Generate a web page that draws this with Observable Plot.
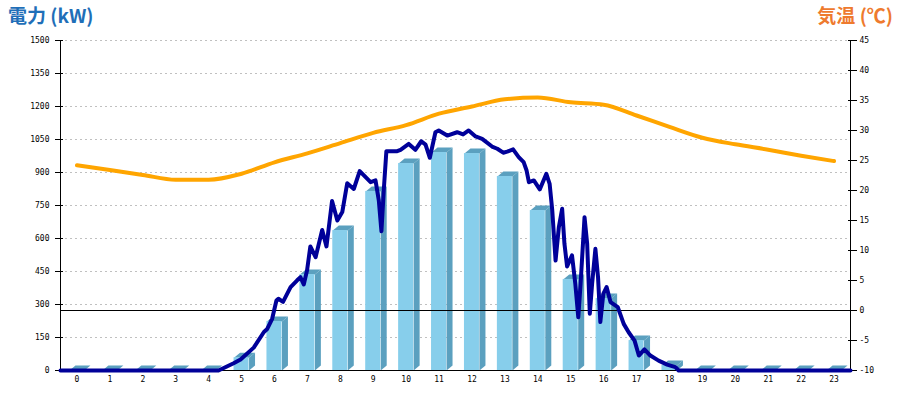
<!DOCTYPE html>
<html>
<head>
<meta charset="utf-8">
<script src="https://cdn.jsdelivr.net/npm/d3@7"></script>
<script src="https://cdn.jsdelivr.net/npm/@observablehq/plot@0.6"></script>
<style>
  html, body { margin: 0; padding: 0; background: #fff; }
  #wrap { position: relative; width: 900px; height: 400px; }
  .title { position: absolute; top: 2px; font-family: "Noto Sans CJK JP", "Noto Sans", sans-serif; font-weight: bold; font-size: 19px; line-height: 25px; }
  #tl { left: 8px; color: #1f6fb8; }
  #tr { right: 7px; color: #ee7a2e; }
</style>
</head>
<body>
<div id="wrap">
  <div class="title" id="tl">電力 (kW)</div>
  <div class="title" id="tr">気温 (℃)</div>
</div>
<script>
// ---- data ----
const hours = [0,1,2,3,4,5,6,7,8,9,10,11,12,13,14,15,16,17,18,19,20,21,22,23];
const hourlyPower = [0,0,0,0,0,58,223,436,636,814,941,991,986,882,727,414,327,136,23,0,0,0,0,0];
const temperature = [24.2,23.4,22.6,21.8,21.8,22.8,24.7,26.2,27.9,29.6,30.9,32.8,34,35.2,35.5,34.7,34.3,32.5,30.6,28.8,27.7,26.8,25.8,24.9];
const powerTime = [0,4.8,5.26,5.47,5.87,6.18,6.28,6.43,6.56,6.62,6.76,6.99,7.19,7.29,7.39,7.49,7.59,7.75,7.95,8.08,8.25,8.41,8.56,8.71,8.91,9.09,9.42,9.57,9.67,9.75,9.82,9.90,10.08,10.23,10.33,10.58,10.78,10.96,11.09,11.22,11.39,11.49,11.75,12.05,12.23,12.40,12.61,12.81,13.11,13.27,13.45,13.57,13.75,13.92,14.07,14.16,14.23,14.38,14.56,14.76,14.86,14.94,15.04,15.14,15.24,15.31,15.39,15.54,15.64,15.73,15.80,15.92,16.00,16.08,16.15,16.25,16.33,16.40,16.49,16.59,16.71,16.93,17.11,17.26,17.44,17.57,17.74,17.92,18.17,18.43,18.68,18.78,24];
const powerValue = [0,0,33,50,104,175,189,235,318,326,312,379,410,424,391,455,564,515,639,564,770,682,720,851,825,906,856,864,773,633,818,997,997,997,1003,1030,1003,1042,1027,967,1083,1091,1068,1083,1073,1091,1064,1053,1018,1008,990,995,1005,970,947,909,856,864,823,894,848,727,500,652,735,576,473,523,394,242,394,697,576,258,394,553,424,220,348,379,311,288,212,174,136,68,96,68,45,27,15,0,0];
const powerTicks = [0,150,300,450,600,750,900,1050,1200,1350,1500];
const tempTicks = [-10,-5,0,5,10,15,20,25,30,35,40,45];

// ---- layout ----
const W = 900, H = 400, mL = 60, mR = 50, mT = 40, mB = 30;
const pMax = 1500, tMin = -10, tMax = 45;
const hPerPx = 24 / (W - mL - mR);
const kwPerPx = pMax / (H - mT - mB);
const half = 7.5 * hPerPx;      // half front width
const depX = 6 * hPerPx;        // 3D depth in x
const depY = 5 * kwPerPx;       // 3D depth in y
const tToP = t => (t - tMin) / (tMax - tMin) * pMax;

const bars = hours.map((h, i) => ({h, v: hourlyPower[i], x1: h + 0.5 - half, x2: h + 0.5 + half}));
const sides = [], tops = [];
bars.forEach(b => {
  sides.push({id: b.h, x: b.x2, y: 0}, {id: b.h, x: b.x2 + depX, y: depY}, {id: b.h, x: b.x2 + depX, y: b.v + depY}, {id: b.h, x: b.x2, y: b.v});
  tops.push({id: b.h, x: b.x1, y: b.v}, {id: b.h, x: b.x2, y: b.v}, {id: b.h, x: b.x2 + depX, y: b.v + depY}, {id: b.h, x: b.x1 + depX, y: b.v + depY});
});
const powerLine = powerTime.map((t, i) => ({t, p: powerValue[i]}));
const tempLine = hours.map((h, i) => ({t: h + 0.5, p: tToP(temperature[i])}));

const chart = Plot.plot({
  width: W, height: H,
  marginLeft: mL, marginRight: mR, marginTop: mT, marginBottom: mB,
  x: {domain: [0, 24], axis: null},
  y: {domain: [0, pMax], axis: null},
  style: {fontFamily: "'DejaVu Sans Mono', monospace", fontSize: "8px", background: "#fff", color: "#000"},
  marks: [
    Plot.ruleY(powerTicks.filter(d => d > 0), {stroke: "#c0c0c0", strokeDasharray: "2,3", strokeWidth: 1}),
    Plot.line(sides, {x: "x", y: "y", z: "id", fill: "#5ba0bf", stroke: "none"}),
    Plot.line(tops, {x: "x", y: "y", z: "id", fill: "#5ba0bf", stroke: "none"}),
    Plot.rect(bars, {x1: "x1", x2: "x2", y1: 0, y2: "v", fill: "#87ceeb"}),
    Plot.ruleY([tToP(0)], {stroke: "#000", strokeWidth: 1}),
    Plot.ruleX([0], {stroke: "#000"}),
    Plot.ruleX([24], {stroke: "#000"}),
    Plot.ruleY([0], {stroke: "#000"}),
    Plot.axisY(powerTicks, {anchor: "left", tickSize: 8, dx: 3, tickPadding: 6, tickFormat: d => String(d)}),
    Plot.axisY(tempTicks.map(tToP), {anchor: "right", tickSize: 9, dx: -3, tickPadding: 3, tickFormat: p => String(Math.round(p / pMax * (tMax - tMin) + tMin))}),
    Plot.axisX(hours.map(h => h + 0.5), {anchor: "bottom", tickSize: 0, tickPadding: 6, tickFormat: d => String(Math.round(d - 0.5))}),
    Plot.line(powerLine, {x: "t", y: "p", stroke: "#000099", strokeWidth: 4, strokeLinejoin: "round"}),
    Plot.line(tempLine, {x: "t", y: "p", stroke: "#ffa500", strokeWidth: 4, curve: "monotone-x"})
  ]
});
document.getElementById("wrap").prepend(chart);
chart.style.position = "absolute";
chart.style.left = "0";
chart.style.top = "0";
</script>
</body>
</html>
